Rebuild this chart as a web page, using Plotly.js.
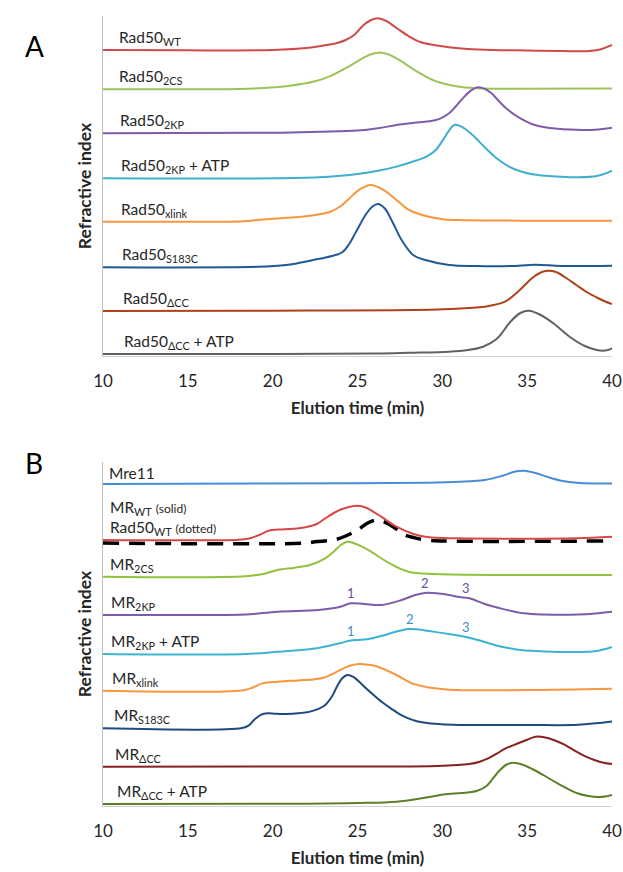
<!DOCTYPE html>
<html>
<head>
<meta charset="utf-8">
<script src="https://cdn.plot.ly/plotly-3.0.1.min.js"></script>
<style>html,body{margin:0;padding:0;background:#fff;}#chart{width:623px;height:872px;}</style>
</head>
<body>
<div id="chart"></div>
<script>
// ---------- data (elution time in min, refractive index signal above each trace's own baseline) ----------
const tickVals = [10, 15, 20, 25, 30, 35, 40];

// Panel A
const A_WT_t = [10,15,17,20,22,23,23.8,24.3,24.8,25.3,25.8,26.2,26.7,27.3,28,28.7,29.5,30.5,31.5,33,35,37,38.5,39.3,40];
const A_WT_y = [0,-0.3,-0.5,0,2,4.5,7,10,15,24,30,31.7,29,22,14,8,5,2.5,1,0,-0.5,-1,-1.2,0.5,5];
const A_2CS_t = [10,16,18,19.5,21,22.5,23.5,24.5,25.3,25.8,26.3,26.8,27.5,28.3,29,29.8,30.8,32,34,40];
const A_2CS_y = [0,0,0.3,1.2,3.5,8,14,23,31,35,36.7,35,29,20,13,7,3,1,0.5,0.7];
const A_2KP_t = [10,20,22.7,25,26.2,27.3,28.5,29.5,29.9,30.4,30.8,31.3,31.7,32.1,32.5,32.9,33.4,33.9,34.6,35.5,36.5,37.9,39,40];
const A_2KP_y = [0,0.5,1.5,2.7,5,8.3,10.7,12.7,15,20,27,36.7,43,46,44.5,40,31,23,15,8,5,3.5,3.5,5.5];
const A_2KPATP_t = [10,20,22.7,24,25,26.2,27.3,28.5,29.1,29.6,30.1,30.7,31.2,31.8,32.5,33.2,33.9,34.6,35.3,36.7,37.9,39.1,40];
const A_2KPATP_y = [0,0,1,2.5,4.3,7.5,11.7,18,22,28,40,53.3,51,43,31,20,12,7,4,1.7,1,2.3,7.7];
const A_xlink_t = [10,17,18.3,19.4,20.5,21.7,22.6,23.4,24,24.5,25.2,25.8,26.5,27.3,28,28.8,30,30.9,35,40];
const A_xlink_y = [0,0,0.5,2.3,3.5,5,7,10,15.5,23,33,36.7,32,21.7,12,6.7,2.5,1.7,1,1];
const A_S183C_t = [10,19.1,20.8,22.4,23.5,24.1,24.5,24.9,25.5,25.9,26.2,26.6,27.1,27.6,28.3,29,30.4,32,34,35.5,37,40];
const A_S183C_y = [0,0.5,2.3,7.3,11.3,15,23,35,53,61,63.3,59,44,27.3,12,7.3,2.3,1.3,1.3,2.5,1.3,1.5];
const A_dCC_t = [10,20,29.7,31.5,32.5,33.7,34.5,35.3,35.8,36.2,36.7,37.3,37.9,38.5,39.1,39.6,40];
const A_dCC_y = [0,0.3,1.5,3,4.3,9.3,20,33,38.5,40.3,39,33,26,19,13.5,9.5,7];
const A_dCCATP_t = [10,20,26,28,30.4,31.5,32.4,33.2,33.6,34,34.6,35.1,35.8,36.6,37.5,38.4,39.1,39.6,40];
const A_dCCATP_y = [0,0,0.5,1.2,2.3,4,7.3,15,23,32,41,43.3,39,30,17.3,8,4,3.5,5.7];

// Panel B
const B_Mre11_t = [10,25,29,31,32.5,33.5,34.3,34.8,35.5,36.3,37.1,37.9,39,40];
const B_Mre11_y = [0,0.7,1.3,2.2,4,8,12.5,13.3,11,6.5,3,1.2,0.5,0.5];
const B_MRWT_t = [10,18,18.6,19.2,19.8,20.3,21.2,22,22.6,23.1,23.6,24.1,24.8,25.3,25.7,26.4,27.3,28.3,29.2,30.9,34.4,37.9,40];
const B_MRWT_y = [0,0.3,1.5,5,9.5,10.5,11.2,13,16,21.7,27,31,34,33.5,30.7,23.3,13.3,6,2.7,1.7,1.3,1.7,3.3];
const B_R50WT_t = [10,22,22.5,23.6,24.3,25,25.6,26.1,26.6,27.2,27.8,28.3,29,30,39.5];
const B_R50WT_y = [0,0,1.3,3,7,13,20,23,21,15,8,5.5,3,2,2];
const B_2CS_t = [10,18.4,19.5,20.3,21.3,22.2,23.1,23.6,24,24.4,24.8,25.2,25.7,26.9,28,29.6,34,40];
const B_2CS_y = [0,0.5,3,6.7,9,11.7,18.3,25,31.5,35,33.5,30.5,26,13.3,5,2.7,1.7,1.7];
const B_2KP_t = [10,16,18.4,20.3,22.7,24,24.6,25.4,26.4,27.6,28.4,29.1,29.8,30.4,31,31.6,32.5,33.4,34.8,36,38,39,40];
const B_2KP_y = [0,0,0.5,3.3,5,8.3,11.7,11,10,15,20,22.3,21.5,20,18,16.7,11,6.7,1.7,0.5,0.5,1.5,3.3];
const B_2KPATP_t = [10,18.4,20.3,22.7,24,24.6,25.2,25.8,26.5,27.2,28,28.6,29.2,30.4,31.4,32.1,32.7,33.3,33.9,34.6,35.5,36.5,37.9,39.1,40];
const B_2KPATP_y = [0,0,2.3,6,11,13.5,14.2,15.5,18.5,22,25,24.5,23,20,17,14,11,8,6,4,3,2.3,2,3,7];
const B_xlink_t = [10,18.2,18.8,19.4,20.3,21.5,22.4,23,23.6,24.5,25.1,25.6,26.2,27.3,28.2,29.2,30.9,35,40];
const B_xlink_y = [0,0.3,3,7.3,9,10.3,11.3,13,17.3,24.7,26.7,26,24,15.7,7.3,3.3,0.7,0.7,2];
const B_S183C_t = [10,18.2,18.6,18.9,19.3,19.7,20.2,20.8,21.5,22.2,22.7,23.1,23.5,23.8,24.1,24.4,24.75,25.1,25.5,26,26.5,27,27.5,28,28.5,29.2,30.2,31,35,38,40];
const B_S183C_y = [0,0.3,3,8.3,13.5,15,14.5,14.3,15,16.7,19.5,23.3,32,42,50,53.3,51.5,46.5,40,32.5,25.5,19.5,14,10,7,5,3.8,3.3,3.3,3.5,6.7];
const B_dCC_t = [10,25,29.7,31.6,32.2,32.7,33.2,33.7,34.4,35,35.5,36,36.6,37.2,37.8,38.4,39,39.5,40];
const B_dCC_y = [0,0.3,0.7,2.7,5,8.3,13,18,23,27,30,29.5,26.5,22,16,10.5,6.5,4,2.7];
const B_dCCATP_t = [10,22,25,27.3,28.8,30.2,31.6,32.1,32.6,33,33.4,33.8,34.2,34.7,35.3,36,36.7,37.4,38,38.6,39.2,39.6,40];
const B_dCCATP_y = [0,0.3,1,2.3,5.7,9.7,11.7,13.5,18,26,34,39.5,41.3,39.5,35,28.5,21.5,15,10.5,8,7,7.5,9];

// Peak numbering labels in the MR2KP traces
const peakNums = ['1', '2', '3'];
const B_2KP_peakT = [24.6, 29.0, 31.4];
const B_2KPATP_peakT = [24.6, 28.1, 31.4];

// ---------- layout helpers ----------
const H = 872, MT = 0, MB = 60;
const PH = H - MT - MB;
const pyA = [16, 356];   // panel A axis top / bottom (px)
const pyB = [462, 806];  // panel B axis top / bottom (px)
const dom = p => [(H - MB - p[1]) / PH, (H - MB - p[0]) / PH];

// series: [t, y, stack offset, color, label, label x]
const seriesA = [
  [A_WT_t, A_WT_y, 306, '#CF4A4A', 'Rad50<sub>WT</sub>', 10.83],
  [A_2CS_t, A_2CS_y, 266.7, '#9BC45A', 'Rad50<sub>2CS</sub>', 10.83],
  [A_2KP_t, A_2KP_y, 222.7, '#7F5BA8', 'Rad50<sub>2KP</sub>', 10.88],
  [A_2KPATP_t, A_2KPATP_y, 177.7, '#3FAFCF', 'Rad50<sub>2KP</sub> + ATP', 10.94],
  [A_xlink_t, A_xlink_y, 134.3, '#F7963D', 'Rad50<sub>xlink</sub>', 10.94],
  [A_S183C_t, A_S183C_y, 88.7, '#1F5A94', 'Rad50<sub>S183C</sub>', 11.0],
  [A_dCC_t, A_dCC_y, 45, '#AE421B', 'Rad50<sub>ΔCC</sub>', 11.06],
  [A_dCCATP_t, A_dCCATP_y, 2, '#626262', 'Rad50<sub>ΔCC</sub> + ATP', 11.12]
];
const seriesB = [
  [B_Mre11_t, B_Mre11_y, 322, '#4A8BD6', 'Mre11', 10.24],
  [B_MRWT_t, B_MRWT_y, 266, '#D7474A', null, 10.29],
  [B_2CS_t, B_2CS_y, 229.3, '#92C13F', 'MR<sub>2CS</sub>', 10.29],
  [B_2KP_t, B_2KP_y, 191, '#7E5BA6', 'MR<sub>2KP</sub>', 10.35],
  [B_2KPATP_t, B_2KPATP_y, 152, '#3DB3D3', 'MR<sub>2KP</sub> + ATP', 10.35],
  [B_xlink_t, B_xlink_y, 115.3, '#F7963D', 'MR<sub>xlink</sub>', 10.41],
  [B_S183C_t, B_S183C_y, 77.7, '#1F4A7F', 'MR<sub>S183C</sub>', 10.53],
  [B_dCC_t, B_dCC_y, 39.3, '#862221', 'MR<sub>ΔCC</sub>', 10.59],
  [B_dCCATP_t, B_dCCATP_y, 2, '#5C7F2A', 'MR<sub>ΔCC</sub> + ATP', 10.71]
];

const FONT = 'Lato, "Open Sans", sans-serif';
const TXT = '#262626';
const traces = [];
const annotations = [];

function addSeries(list, xa, ya) {
  list.forEach(s => {
    traces.push({
      x: s[0], y: s[1].map(v => v + s[2]), xaxis: xa, yaxis: ya,
      type: 'scatter', mode: 'lines', hoverinfo: 'skip',
      line: {color: s[3], width: 2, shape: 'spline', smoothing: 1.0}
    });
    if (s[4]) annotations.push({
      x: s[5], y: s[2], xref: xa, yref: ya, text: s[4], showarrow: false,
      xanchor: 'left', yanchor: 'bottom', yshift: 0,
      font: {family: FONT, size: 15.5, color: TXT}
    });
  });
}
addSeries(seriesA, 'x', 'y');

// dashed Rad50WT overlay in panel B
traces.push({
  x: B_R50WT_t, y: B_R50WT_y.map(v => v + 263), xaxis: 'x2', yaxis: 'y2',
  type: 'scatter', mode: 'lines', hoverinfo: 'skip',
  line: {color: '#000000', width: 3.5, dash: '16px,10px', shape: 'spline', smoothing: 1.0}
});
addSeries(seriesB, 'x2', 'y2');

annotations.push({
  x: 10.29, y: 266, xref: 'x2', yref: 'y2', showarrow: false, xanchor: 'left', yanchor: 'bottom',
  text: 'MR<sub>WT</sub> <span style="font-size:12px">(solid)</span><br>Rad50<sub>WT</sub> <span style="font-size:12px">(dotted)</span>',
  align: 'left', font: {family: FONT, size: 15.5, color: TXT}
});

peakNums.forEach((n, i) => {
  annotations.push({x: B_2KP_peakT[i], y: 191 + [11.7, 22.3, 16.7][i], xref: 'x2', yref: 'y2', text: n,
    showarrow: false, yanchor: 'bottom', yshift: 0, font: {family: FONT, size: 13, color: '#6A4C9C'}});
  annotations.push({x: B_2KPATP_peakT[i], y: 152 + [13.5, 25, 17][i], xref: 'x2', yref: 'y2', text: n,
    showarrow: false, yanchor: 'bottom', yshift: 0, font: {family: FONT, size: 13, color: '#3A8FD0'}});
});

annotations.push({x: (23 - 103) / 509, y: (H - MB - 27) / PH, xref: 'paper', yref: 'paper', text: 'A',
  showarrow: false, font: {family: FONT, size: 28, color: '#000'}});
annotations.push({x: (23 - 103) / 509, y: (H - MB - 463) / PH, xref: 'paper', yref: 'paper', text: 'B',
  showarrow: false, font: {family: FONT, size: 28, color: '#000'}});

const xax = (anchor) => ({
  anchor: anchor, range: [10, 40], tickvals: tickVals, ticks: '', showgrid: false, zeroline: false,
  showline: true, linecolor: '#D0D0D0', linewidth: 1, ticklabelstandoff: 10,
  tickfont: {family: FONT, size: 17, color: TXT},
  title: {text: 'Elution time (min)', font: {family: FONT, size: 17, color: TXT, weight: 'bold'}, standoff: 11}
});
const yax = (p, range, anchor) => ({
  domain: dom(p), anchor: anchor, range: range, showticklabels: false, ticks: '', showgrid: false,
  zeroline: false, showline: true, linecolor: '#BFBFBF', linewidth: 1,
  title: {text: 'Refractive index', font: {family: FONT, size: 17.5, color: TXT, weight: 'bold'}, standoff: 5}
});

const layout = {
  width: 623, height: 872, margin: {l: 103, r: 11, t: MT, b: MB},
  paper_bgcolor: '#fff', plot_bgcolor: '#fff', showlegend: false,
  xaxis: xax('y'), yaxis: yax(pyA, [0, pyA[1] - pyA[0]], 'x'),
  xaxis2: xax('y2'), yaxis2: yax(pyB, [0, pyB[1] - pyB[0]], 'x2'),
  annotations: annotations
};

Plotly.newPlot('chart', traces, layout, {staticPlot: true, displayModeBar: false});
</script>
</body>
</html>
